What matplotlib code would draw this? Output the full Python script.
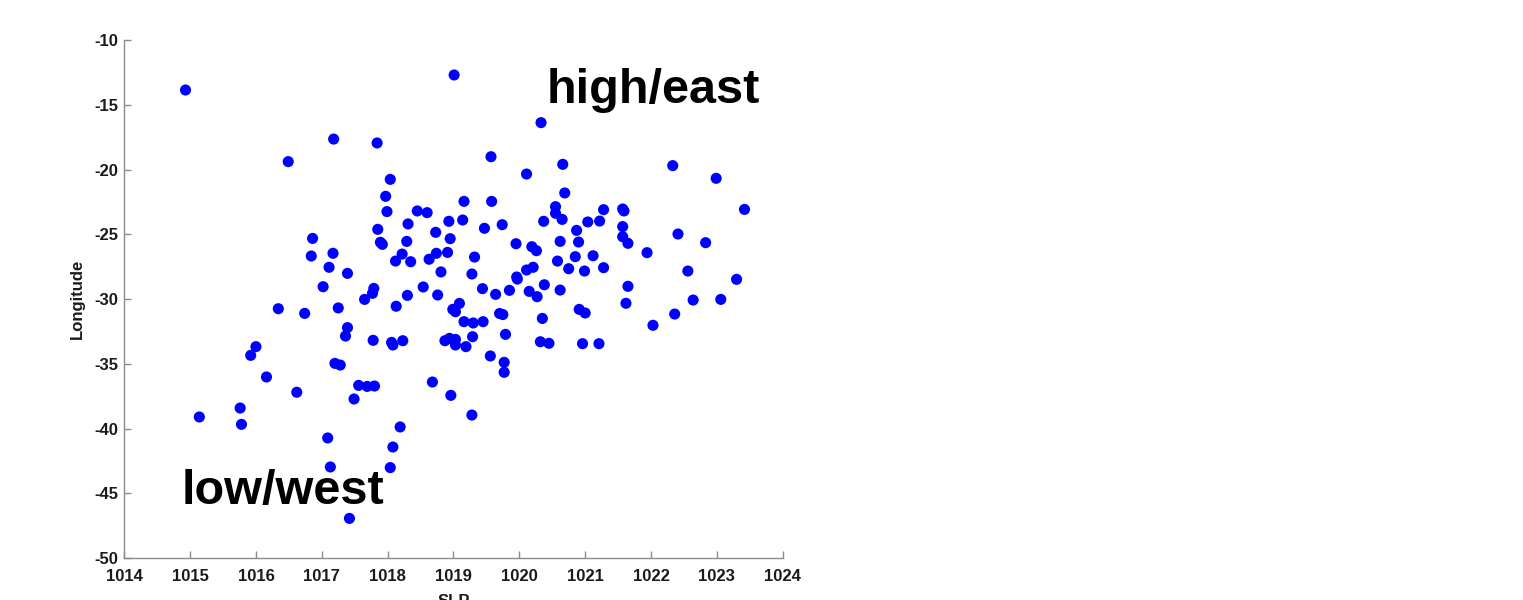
import matplotlib
matplotlib.use("Agg")
import matplotlib.pyplot as plt

plt.rcParams['font.family'] = ['Liberation Sans', 'DejaVu Sans']
plt.rcParams['axes.unicode_minus'] = False

# sea level pressure (hPa) of each event
slp = [
    1014.93, 1019.01, 1020.33, 1017.18, 1017.84, 1016.49, 1019.57, 1020.66,
    1020.11, 1022.33, 1022.99, 1018.04, 1020.69, 1023.42, 1017.97, 1017.99,
    1018.45, 1018.60, 1019.16, 1019.58, 1017.85, 1018.31, 1018.73, 1018.93,
    1019.14, 1020.37, 1020.55, 1020.55, 1020.65, 1021.04, 1021.22, 1021.28,
    1021.57, 1021.59, 1021.57, 1021.57, 1021.65, 1020.87, 1020.90, 1020.62,
    1019.47, 1019.74, 1016.86, 1017.89, 1017.92, 1018.29, 1018.95, 1019.95,
    1020.19, 1020.26, 1022.41, 1022.83, 1021.94, 1016.84, 1017.17, 1018.22,
    1018.12, 1018.35, 1018.63, 1018.74, 1018.91, 1019.32, 1020.58, 1020.85,
    1021.12, 1017.11, 1017.39, 1018.81, 1019.28, 1020.75, 1020.99, 1021.28,
    1022.56, 1023.30, 1019.96, 1019.97, 1020.11, 1020.21, 1017.02, 1017.79,
    1017.77, 1017.65, 1018.54, 1018.30, 1018.76, 1019.44, 1019.64, 1019.85,
    1020.15, 1020.27, 1020.38, 1020.62, 1021.65, 1022.64, 1023.06, 1021.62,
    1018.13, 1016.34, 1016.74, 1017.25, 1018.99, 1019.03, 1019.09, 1019.70,
    1019.75, 1020.91, 1021.00, 1022.36, 1020.35, 1019.16, 1019.30, 1019.45,
    1022.03, 1017.39, 1017.36, 1017.78, 1018.06, 1018.08, 1018.23, 1018.87,
    1018.94, 1019.03, 1019.03, 1019.19, 1019.29, 1019.79, 1020.32, 1020.45,
    1020.96, 1021.21, 1016.00, 1015.92, 1017.20, 1017.28, 1019.56, 1019.77,
    1019.77, 1016.16, 1016.62, 1017.56, 1017.69, 1017.80, 1017.49, 1018.68,
    1018.96, 1015.76, 1015.78, 1015.14, 1019.28, 1017.09, 1018.19, 1018.08,
    1017.13, 1018.04, 1017.42,
]

# longitude of each event
lon = [
    -13.86, -12.70, -16.38, -17.65, -17.95, -19.39, -19.01, -19.60,
    -20.35, -19.70, -20.68, -20.76, -21.81, -23.08, -22.07, -23.25,
    -23.20, -23.33, -22.46, -22.46, -24.62, -24.20, -24.85, -24.00,
    -23.90, -24.00, -22.87, -23.38, -23.85, -24.05, -23.98, -23.10,
    -23.05, -23.20, -24.41, -25.19, -25.70, -24.70, -25.60, -25.55,
    -24.54, -24.26, -25.32, -25.62, -25.78, -25.55, -25.34, -25.73,
    -25.96, -26.27, -24.98, -25.65, -26.42, -26.68, -26.47, -26.53,
    -27.07, -27.12, -26.93, -26.47, -26.40, -26.76, -27.07, -26.73,
    -26.66, -27.55, -28.02, -27.91, -28.07, -27.66, -27.84, -27.58,
    -27.84, -28.48, -28.30, -28.46, -27.76, -27.55, -29.05, -29.18,
    -29.56, -30.03, -29.07, -29.72, -29.69, -29.20, -29.64, -29.33,
    -29.41, -29.82, -28.90, -29.31, -29.02, -30.08, -30.03, -30.33,
    -30.56, -30.75, -31.11, -30.69, -30.80, -30.98, -30.34, -31.12,
    -31.20, -30.80, -31.08, -31.16, -31.50, -31.75, -31.85, -31.75,
    -32.03, -32.21, -32.86, -33.19, -33.35, -33.55, -33.22, -33.22,
    -33.04, -33.12, -33.55, -33.68, -32.91, -32.73, -33.30, -33.42,
    -33.45, -33.45, -33.68, -34.35, -34.97, -35.10, -34.40, -34.89,
    -35.66, -36.02, -37.20, -36.67, -36.75, -36.72, -37.72, -36.41,
    -37.44, -38.42, -39.68, -39.11, -38.96, -40.73, -39.88, -41.43,
    -42.97, -43.02, -46.94,
]

x_ticks = [1014, 1015, 1016, 1017, 1018, 1019, 1020, 1021, 1022, 1023, 1024]
y_ticks = [-50, -45, -40, -35, -30, -25, -20, -15, -10]

fig = plt.figure(figsize=(15.23, 6.0), dpi=100)
ax = fig.add_axes([0.0816, 0.07, 0.4323, 0.8633])

ax.scatter(slp, lon, s=64, color='#0000ff', edgecolors='none', zorder=3)

ax.set_xlim(1014, 1024)
ax.set_ylim(-50, -10)
ax.set_xticks(x_ticks)
ax.set_yticks(y_ticks)

# matlab look: only left/bottom axis, grey, ticks pointing in
for side in ['top', 'right']:
    ax.spines[side].set_visible(False)
for side in ['left', 'bottom']:
    ax.spines[side].set_color('#8c8c8c')
    ax.spines[side].set_linewidth(1.0)
ax.tick_params(direction='in', length=5, width=1.0, color='#8c8c8c',
               labelsize=12, labelcolor='#1a1a1a')
for lab in ax.get_xticklabels() + ax.get_yticklabels():
    lab.set_fontweight('bold')
ax.tick_params(axis='x', pad=8)
ax.tick_params(axis='y', pad=4)

ax.set_xlabel('SLP', fontsize=12, fontweight='bold', color='#1a1a1a', labelpad=7)
ax.set_ylabel('Longitude', fontsize=12, fontweight='bold', color='#1a1a1a', labelpad=7)

ax.text(1020.42, -14.9, 'high/east', fontsize=35, fontweight='bold')
ax.text(1014.87, -45.83, 'low/west', fontsize=35, fontweight='bold')

fig.savefig('out.png', dpi=100)
